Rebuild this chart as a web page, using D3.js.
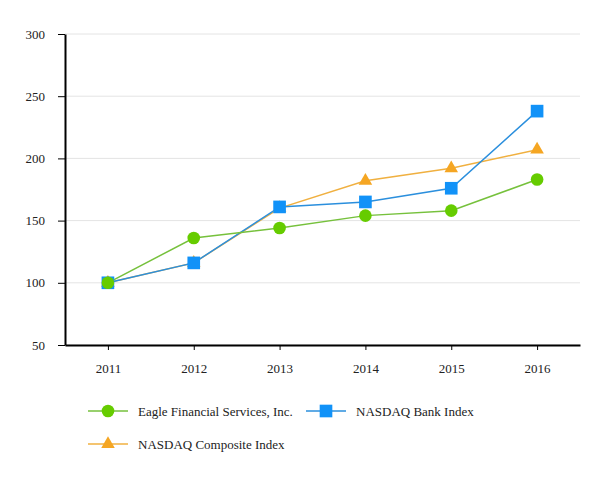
<!DOCTYPE html>
<html>
<head>
<meta charset="utf-8">
<script src="https://cdn.jsdelivr.net/npm/d3@7"></script>
<style>
  body { margin: 0; background: #fff; }
  svg { display: block; }
  svg text { font-family: 'Liberation Serif', 'Times New Roman', Times, serif !important; font-size: 13px; fill: #222; }
</style>
</head>
<body>
<svg id="chart" width="613" height="480"></svg>
<script>
const years = ["2011", "2012", "2013", "2014", "2015", "2016"];
const eagle = [100, 136, 144, 154, 158, 183];
const bank = [100, 116, 161, 165, 176, 238];
const composite = [100, 116, 160, 182, 192, 207];
const yTicks = [50, 100, 150, 200, 250, 300];
const seriesNames = ["Eagle Financial Services, Inc.", "NASDAQ Bank Index", "NASDAQ Composite Index"];

(function () {
const series = [
  { name: seriesNames[0], values: eagle, line: "#76c13c", fill: "#66cc00", symbol: d3.symbolCircle, size: 125 },
  { name: seriesNames[1], values: bank, line: "#2b8fdd", fill: "#1192f8", symbol: d3.symbolSquare, size: 160 },
  { name: seriesNames[2], values: composite, line: "#f0b040", fill: "#f5a623", symbol: d3.symbolTriangle, size: 80 }
];

const svg = d3.select("#chart");
const mLeft = 65, mRight = 580, mTop = 34, mBottom = 345;

const x = d3.scalePoint().domain(years).range([mLeft, mRight]).padding(0.5);
const y = d3.scaleLinear().domain([50, 300]).range([mBottom, mTop]);

// gridlines
svg.append("g")
  .selectAll("line")
  .data(yTicks)
  .join("line")
  .attr("x1", mLeft).attr("x2", mRight)
  .attr("y1", d => y(d)).attr("y2", d => y(d))
  .attr("stroke", "#e4e4e4").attr("stroke-width", 1);

// y axis
const yAxis = svg.append("g")
  .attr("transform", `translate(${mLeft},0)`)
  .call(d3.axisLeft(y).tickValues(yTicks).tickSize(7).tickPadding(13).tickSizeOuter(0));
yAxis.attr("font-family", null).attr("font-size", null);
yAxis.select(".domain").attr("stroke", "#000").attr("stroke-width", 2);
yAxis.selectAll(".tick line").attr("stroke", "#000");

// x axis
const xAxis = svg.append("g")
  .attr("transform", `translate(0,${mBottom})`)
  .call(d3.axisBottom(x).tickSize(5).tickPadding(14).tickSizeOuter(0));
xAxis.attr("font-family", null).attr("font-size", null);
xAxis.select(".domain").attr("stroke", "#000").attr("stroke-width", 2);
xAxis.selectAll(".tick line").attr("stroke", "#000");

// lines & markers, drawn composite, bank, eagle
const drawOrder = [series[2], series[1], series[0]];
const line = d3.line().x((d, i) => x(years[i])).y(d => y(d));

drawOrder.forEach(s => {
  svg.append("path")
    .attr("d", line(s.values))
    .attr("fill", "none")
    .attr("stroke", s.line)
    .attr("stroke-width", 1.5);
});
drawOrder.forEach(s => {
  svg.append("g")
    .selectAll("path")
    .data(s.values)
    .join("path")
    .attr("d", d3.symbol().type(s.symbol).size(s.size))
    .attr("transform", (d, i) => `translate(${x(years[i])},${y(d)})`)
    .attr("fill", s.fill);
});

// legend
const legendPos = [
  { x: 88, y: 411 },
  { x: 306, y: 411 },
  { x: 88, y: 444 }
];
series.forEach((s, i) => {
  const p = legendPos[i];
  const g = svg.append("g").attr("transform", `translate(${p.x},${p.y})`);
  g.append("line").attr("x1", 0).attr("x2", 40).attr("y1", 0).attr("y2", 0)
    .attr("stroke", s.line).attr("stroke-width", 1.5);
  g.append("path").attr("d", d3.symbol().type(s.symbol).size(s.size))
    .attr("transform", "translate(20,0)").attr("fill", s.fill);
  g.append("text").attr("x", 50).attr("y", 0).attr("dy", "0.35em").text(s.name);
});
})();
</script>
</body>
</html>
